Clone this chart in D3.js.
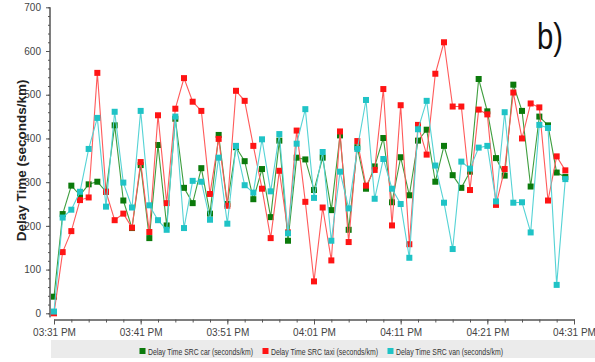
<!DOCTYPE html>
<html>
<head>
<meta charset="utf-8">
<script src="https://cdn.jsdelivr.net/npm/d3@7"></script>
<style>
  html, body { margin: 0; padding: 0; background: #fff; }
  svg { display: block; }
</style>
</head>
<body>
<svg id="chart" width="595" height="362"></svg>
<script>
const times = ["15:31","15:32","15:33","15:34","15:35","15:36","15:37","15:38","15:39","15:40",
  "15:41","15:42","15:43","15:44","15:45","15:46","15:47","15:48","15:49","15:50",
  "15:51","15:52","15:53","15:54","15:55","15:56","15:57","15:58","15:59","16:00",
  "16:01","16:02","16:03","16:04","16:05","16:06","16:07","16:08","16:09","16:10",
  "16:11","16:12","16:13","16:14","16:15","16:16","16:17","16:18","16:19","16:20",
  "16:21","16:22","16:23","16:24","16:25","16:26","16:27","16:28","16:29","16:30"];

const carValues = [38,227,292,270,295,301,278,430,258,195,339,172,385,201,445,287,252,332,228,408,
  250,380,348,261,330,220,395,166,356,352,282,356,236,407,191,380,285,336,401,254,
  357,270,395,420,301,383,316,287,324,536,462,355,315,523,463,290,450,430,322,312];

const taxiValues = [0,140,188,259,265,550,278,213,228,196,346,186,453,252,468,538,484,463,273,399,
  246,509,486,383,285,172,326,185,418,255,73,242,121,416,163,394,292,328,513,201,
  476,158,431,363,548,620,473,473,282,466,455,248,330,505,400,480,471,258,359,327];

const vanValues = [4,219,237,278,376,447,244,461,299,242,463,247,213,191,450,195,303,301,214,356,
  205,383,293,276,398,279,410,183,388,467,264,369,166,324,240,376,488,262,353,285,
  250,127,421,486,338,253,147,347,331,379,383,256,460,253,254,185,431,424,65,307];

const seriesNames = ["Delay Time SRC car (seconds/km)", "Delay Time SRC taxi (seconds/km)", "Delay Time SRC van (seconds/km)"];
const yTicks = [0,100,200,300,400,500,600,700];
const xTickLabels = ["15:31","15:41","15:51","16:01","16:11","16:21","16:31"];
const yTitle = "Delay Time (seconds/km)";
const panelLabel = "b)";

const markerColors = ["#0b7a0b", "#ff1414", "#1fc3c6"];
const lineColors = ["#3e9e3e", "#ff5a5a", "#55d3d5"];

const parse = d3.timeParse("%H:%M");
const svg = d3.select("#chart");
const font = "'Liberation Sans', Arial, sans-serif";

const xStart = parse(xTickLabels[0]);
const xEnd = parse(xTickLabels[xTickLabels.length - 1]);
const x = d3.scaleTime().domain([xStart, xEnd]).range([54, 574]);
const y = d3.scaleLinear().domain([0, 700]).range([313.3, 7.3]);

// Y axis
const yAxisG = svg.append("g").attr("transform", "translate(50,0)");
yAxisG.call(d3.axisLeft(y).tickValues(d3.range(0, 701, 20)).tickSize(2).tickFormat("").tickSizeOuter(0));
yAxisG.append("g").call(d3.axisLeft(y).tickValues(yTicks).tickSize(4).tickPadding(5).tickSizeOuter(0));
yAxisG.selectAll("path.domain").attr("stroke", "#555").attr("d", `M0,${y(700)}V${y(0)+4}`);
yAxisG.selectAll("line").attr("stroke", "#555");
yAxisG.selectAll("text").attr("font-family", font).attr("font-size", 10).attr("fill", "#444");

// X axis
const minorX = d3.range(0, 61, 2).map(m => d3.timeMinute.offset(xStart, m));
const xAxisG = svg.append("g").attr("transform", "translate(0,319.5)");
xAxisG.call(d3.axisBottom(x).tickValues(minorX).tickSize(3).tickFormat("").tickSizeOuter(0));
xAxisG.append("g").call(d3.axisBottom(x).tickValues(xTickLabels.map(parse)).tickSize(5).tickPadding(4)
  .tickFormat(d3.timeFormat("%I:%M %p")).tickSizeOuter(0));
xAxisG.selectAll("path.domain").attr("stroke", "#555");
xAxisG.selectAll("line").attr("stroke", "#555");
xAxisG.selectAll("text").attr("font-family", font).attr("font-size", 10).attr("fill", "#444");

// Y title
svg.append("text")
  .attr("transform", `translate(26,${(y(700)+y(0))/2}) rotate(-90)`)
  .attr("text-anchor", "middle")
  .attr("font-family", font).attr("font-weight", "bold").attr("font-size", 13.5)
  .attr("fill", "#222")
  .text(yTitle);

// Series
const allSeries = [carValues, taxiValues, vanValues];
const line = d3.line().x((d, i) => x(parse(times[i]))).y(d => y(d));
allSeries.forEach((vals, si) => {
  const g = svg.append("g");
  g.append("path").datum(vals)
    .attr("fill", "none").attr("stroke", lineColors[si]).attr("stroke-width", 1.1)
    .attr("d", line);
  g.selectAll("rect").data(vals).enter().append("rect")
    .attr("x", (d, i) => x(parse(times[i])) - 3)
    .attr("y", d => y(d) - 3)
    .attr("width", 6).attr("height", 6)
    .attr("fill", markerColors[si]);
});

// Panel label
svg.append("text")
  .attr("x", 537).attr("y", 48.5)
  .attr("font-family", font)
  .attr("font-size", 36).attr("fill", "#111")
  .attr("textLength", 26).attr("lengthAdjust", "spacingAndGlyphs")
  .text(panelLabel);

// Legend
svg.append("rect").attr("x", 51).attr("y", 340).attr("width", 544).attr("height", 18).attr("fill", "#ebebeb");
const legendX = [139.5, 262.5, 387.5];
const legendW = [105, 107, 107];
seriesNames.forEach((name, i) => {
  svg.append("rect").attr("x", legendX[i]).attr("y", 348).attr("width", 6).attr("height", 6).attr("fill", markerColors[i]);
  svg.append("text").attr("x", legendX[i] + 8.5).attr("y", 354.5)
    .attr("font-family", font)
    .attr("font-size", 8.6).attr("fill", "#333")
    .attr("textLength", legendW[i]).attr("lengthAdjust", "spacingAndGlyphs")
    .text(name);
});
</script>
</body>
</html>
